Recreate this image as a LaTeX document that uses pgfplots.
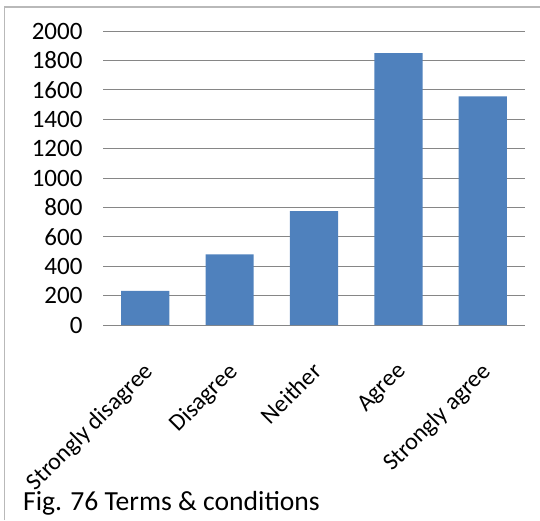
\documentclass[border=0pt]{standalone}
\usepackage{fontspec}
\setmainfont{Carlito}
\usepackage{pgfplots}
\pgfplotsset{compat=1.18}
\definecolor{barblue}{HTML}{4F81BD}
\definecolor{gridgray}{HTML}{868686}
\begin{document}
\begin{tikzpicture}[x=1pt,y=1pt]
\useasboundingbox (0,0) rectangle (540,520);
\draw[color=gray!55, line width=1.2pt] (4.5,0) -- (4.5,513) -- (540,513);
\begin{axis}[
  at={(103pt,195pt)}, anchor=south west,
  scale only axis, width=422pt, height=294pt,
  xmin=-0.5, xmax=4.5, ymin=0, ymax=2000,
  ytick={0,200,...,2000},
  xtick={0,...,4},
  xticklabels={Strongly disagree, Disagree, Neither, Agree, Strongly agree},
  axis x line*=bottom, axis y line*=left,
  x axis line style={gridgray, line width=1pt, -},
  y axis line style={draw=none},
  ymajorgrids, grid style={gridgray, line width=1pt},
  major tick length=0pt,
  yticklabel style={font=\fontsize{25}{29}\selectfont, xshift=-17pt},
  /pgf/number format/assume math mode=true,
  /pgf/number format/set thousands separator={},
  scaled y ticks=false,
  xticklabel style={font=\fontsize{24}{28}\selectfont, rotate=45, anchor=north east, xshift=-24pt, yshift=-20pt},
  ybar, bar width=48.2pt,
]
\addplot[fill=barblue, draw=none] coordinates {(0,233) (1,480) (2,775) (3,1850) (4,1556)};
\end{axis}
\node[anchor=base west, font=\fontsize{27.6}{31}\selectfont, inner sep=0pt] at (23,10) {Fig. 76 Terms \& conditions};
\end{tikzpicture}
\end{document}
